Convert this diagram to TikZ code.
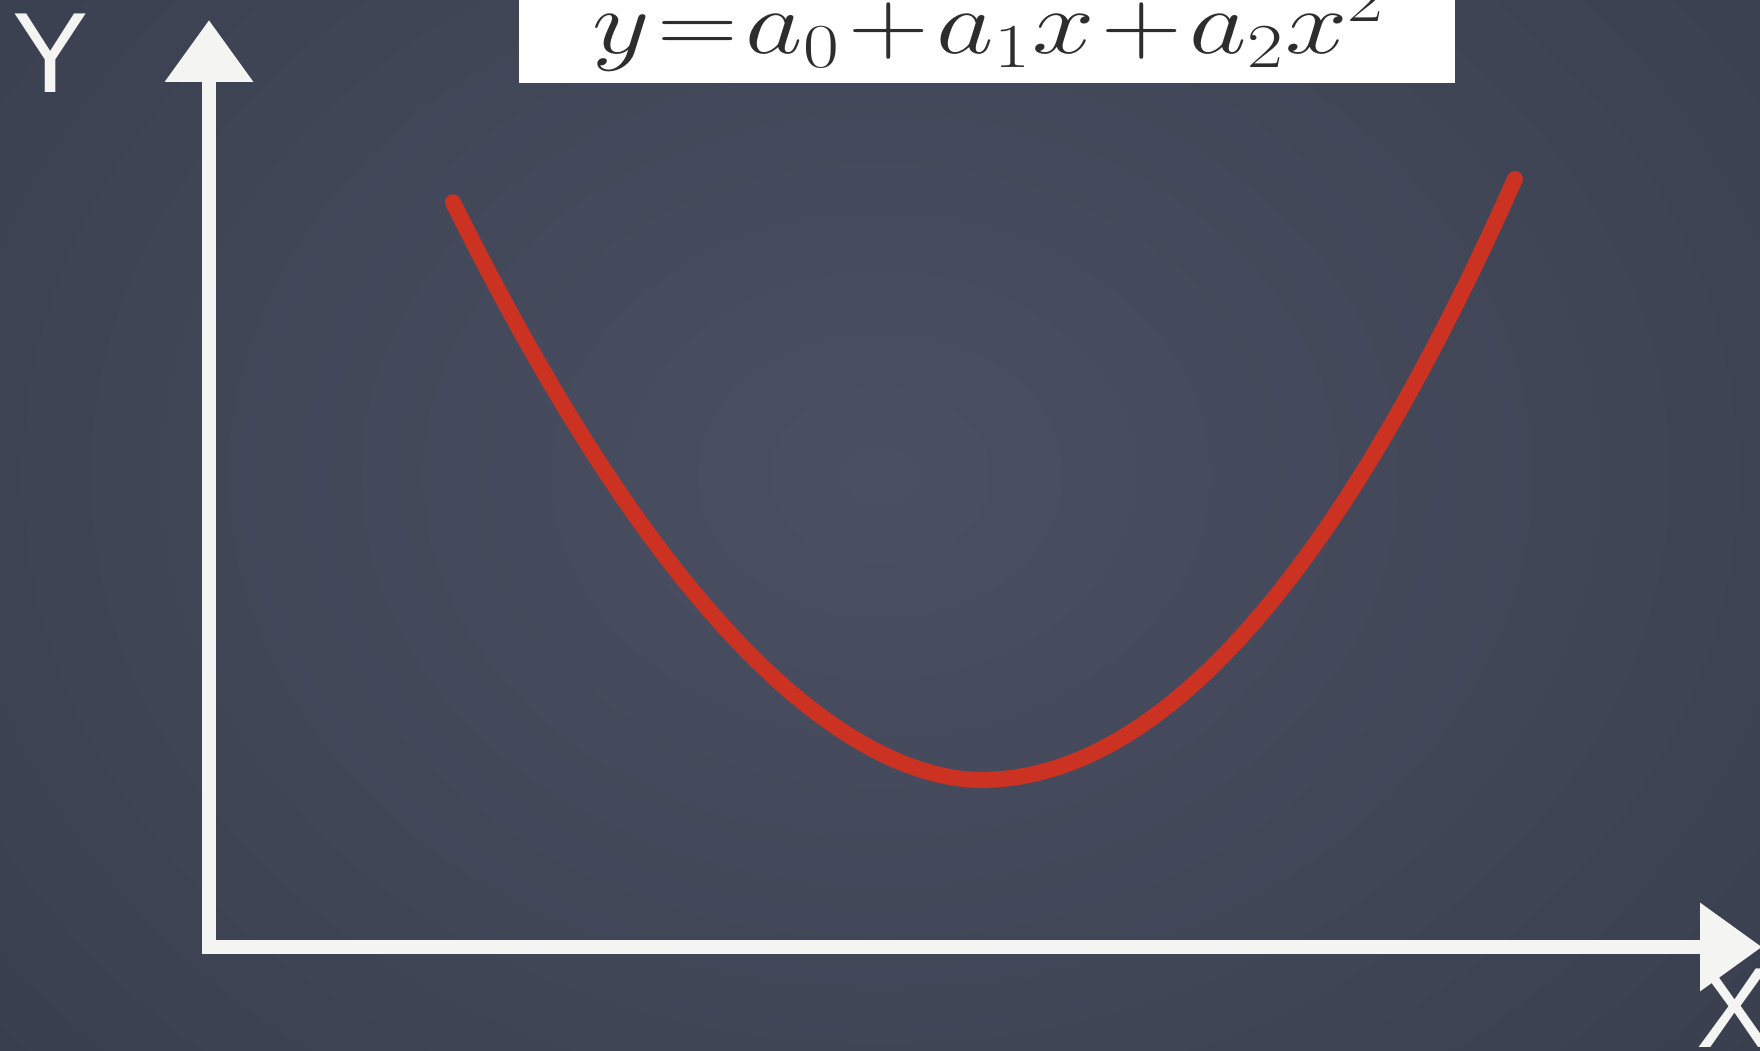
\documentclass[tikz,border=0pt]{standalone}
\usepackage{amsmath}
\usepackage{graphicx}
\usepackage{fontspec}
\usepackage{tikz}
\usetikzlibrary{arrows.meta, positioning}

\newfontfamily\labelfont{Liberation Sans}
\DeclareMathSizes{32}{32}{19}{15}

\definecolor{boardlight}{RGB}{74,80,98}
\definecolor{board}{RGB}{59,64,80}
\definecolor{boarddark}{RGB}{40,43,54}
\definecolor{chalk}{RGB}{244,244,242}
\definecolor{chalkred}{RGB}{203,50,34}
\definecolor{ink}{RGB}{45,45,45}

\pgfdeclareradialshading{chalkboard}{\pgfpoint{0bp}{0bp}}{%
  color(0bp)=(boardlight); color(28bp)=(board); color(50bp)=(boarddark); color(75bp)=(boarddark)}

\begin{document}
\begin{tikzpicture}[
    axis/.style={draw=chalk, line width=0.14cm, line join=miter,
                 {Triangle[length=0.62cm, width=0.85cm]}-{Triangle[length=0.62cm, width=0.85cm]}},
    curve/.style={draw=chalkred, line width=0.16cm, line cap=round, line join=round},
    lbl/.style={text=chalk, inner sep=0pt, font=\labelfont\fontsize{32.5}{39}\selectfont},
    formula/.style={text=ink, inner sep=0pt, font=\fontsize{32}{38}\selectfont}
  ]

  \useasboundingbox (0,0) rectangle (17.6,10.5);
  \clip (0,0) rectangle (17.6,10.5);

  % Chalkboard
  \shade[shading=chalkboard] (-1,-2) rectangle (18.6,13.5);

  % Formula box
  \fill[white] (5.19,9.67) rectangle (14.55,10.7);
  \node[formula, anchor=base west] (eq) at (5.92,9.96)
    {\scalebox{1.28}[1.03]{$\thickmuskip=1.2mu \medmuskip=1.2mu y=a_0+a_1x+a_2x^2$}};

  % Axes
  \coordinate (origin) at (2.09,1.03);
  \coordinate (ytip) at (2.09,10.30);
  \coordinate (xtip) at (17.62,1.03);
  \draw[axis] (ytip) -- (origin) -- (xtip);

  \node[lbl, anchor=north west] (ylabel) at (0.12,10.37) {Y};
  \node[lbl, anchor=north west] (xlabel) at (16.96,0.82) {X};

  % Fitted curve (left and right halves meet at the minimum)
  \draw[curve]
    plot[domain=4.53:9.78, samples=60] (\x, {2.70 + 0.2714*(9.8-\x)^1.84})
    -- plot[domain=9.80:15.15, samples=60] (\x, {2.70 + 0.21*(\x-9.8)^2});

\end{tikzpicture}
\end{document}
